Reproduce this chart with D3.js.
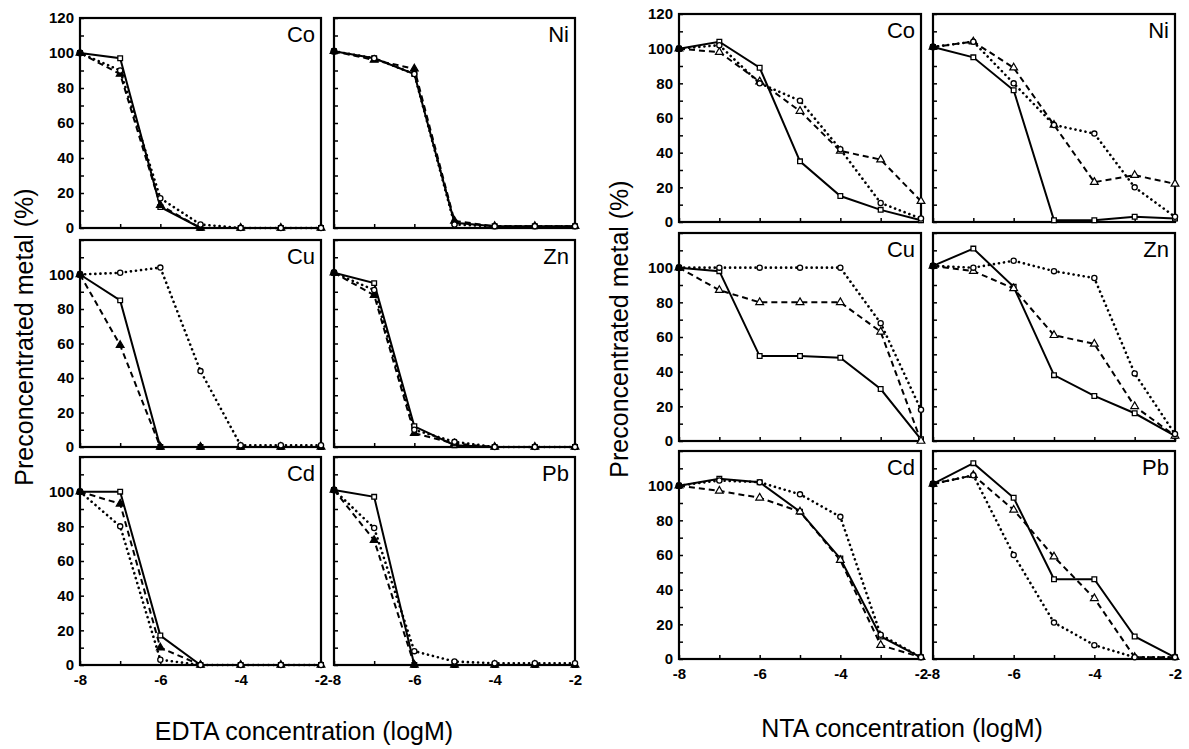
<!DOCTYPE html>
<html>
<head>
<meta charset="utf-8">
<script src="https://cdn.jsdelivr.net/npm/d3@7"></script>
<style>
  body { margin: 0; background: #fff; }
  text { font-family: "Liberation Sans", Arial, sans-serif; fill: #000; }
</style>
</head>
<body>
<div id="chart"></div>
<script>
// x values (log M) and panel names
const logConc = [-8, -7, -6, -5, -4, -3, -2];
const metals = ["Co", "Ni", "Cu", "Zn", "Cd", "Pb"];
const yLabelsTop = [0, 20, 40, 60, 80, 100, 120];
const yLabelsOther = [0, 20, 40, 60, 80, 100];
const xLabels = [-8, -6, -4, -2];

// EDTA: solid / dashed / dotted series, one row per metal
const edtaSolid = [
  [100, 97, 12, 0, 0, 0, 0],
  [101, 97, 88, 3, 1, 1, 1],
  [100, 85, 0, 0, 0, 0, 0],
  [101, 95, 12, 1, 0, 0, 0],
  [100, 100, 17, 0, 0, 0, 0],
  [101, 97, 0, 0, 0, 0, 0]
];
const edtaDashed = [
  [100, 88, 13, 0, 0, 0, 0],
  [101, 96, 91, 4, 1, 1, 1],
  [100, 59, 0, 0, 0, 0, 0],
  [101, 88, 8, 2, 0, 0, 0],
  [100, 93, 10, 0, 0, 0, 0],
  [101, 72, 0, 0, 0, 0, 0]
];
const edtaDotted = [
  [100, 90, 17, 2, 0, 0, 0],
  [101, 97, 88, 2, 1, 1, 1],
  [100, 101, 104, 44, 1, 1, 1],
  [101, 91, 10, 3, 0, 0, 0],
  [100, 80, 3, 0, 0, 0, 0],
  [101, 79, 8, 2, 1, 1, 1]
];

// NTA
const ntaSolid = [
  [100, 104, 89, 35, 15, 7, 1],
  [101, 95, 76, 1, 1, 3, 2],
  [100, 98, 49, 49, 48, 30, 1],
  [101, 111, 89, 38, 26, 16, 3],
  [100, 104, 102, 85, 58, 13, 1],
  [101, 113, 93, 46, 46, 13, 1]
];
const ntaDashed = [
  [100, 98, 81, 64, 41, 36, 12],
  [101, 104, 89, 56, 23, 27, 22],
  [100, 87, 80, 80, 80, 63, 0],
  [101, 98, 88, 61, 56, 20, 3],
  [100, 97, 93, 85, 57, 8, 1],
  [101, 106, 86, 59, 35, 1, 1]
];
const ntaDotted = [
  [100, 102, 80, 70, 42, 11, 2],
  [101, 104, 80, 56, 51, 20, 3],
  [100, 100, 100, 100, 100, 68, 18],
  [101, 100, 104, 98, 94, 39, 4],
  [100, 103, 102, 95, 82, 14, 1],
  [101, 106, 60, 21, 8, 1, 1]
];

const width = 1189, height = 749;

const svg = d3.select("#chart").append("svg")
  .attr("width", width)
  .attr("height", height);

// panel geometry for the two groups
const groups = [
  {
    title: "EDTA concentration (logM)",
    cols: [[80, 321], [334, 575]],
    rows: [[18, 228], [240, 447], [457, 665]],
    series: [edtaSolid, edtaDashed, edtaDotted],
    triFill: "#000",
    ylab: { x: 33, y: 337 },
    xlab: { x: 304, y: 740 }
  },
  {
    title: "NTA concentration (logM)",
    cols: [[679, 921], [933, 1175]],
    rows: [[14, 222], [233, 441], [451, 659]],
    series: [ntaSolid, ntaDashed, ntaDotted],
    triFill: "#fff",
    ylab: { x: 628, y: 329 },
    xlab: { x: 902, y: 737 }
  }
];

const lineStyles = [
  { dash: null, width: 2 },
  { dash: "6,4", width: 2 },
  { dash: "0.1,5", width: 2.6 }
];

groups.forEach(g => {
  metals.forEach((m, i) => {
    const r = Math.floor(i / 2), c = i % 2;
    const x = d3.scaleLinear().domain([-8, -2]).range(g.cols[c]);
    const y = d3.scaleLinear().domain([0, 120]).range([g.rows[r][1], g.rows[r][0]]);
    const p = svg.append("g");

    // y axis, ticks pointing inward
    const labs = r === 0 ? yLabelsTop : yLabelsOther;
    const yAxis = d3.axisLeft(y)
      .tickValues(d3.range(0, 121, 10))
      .tickSizeInner(-4).tickSizeOuter(0).tickPadding(6)
      .tickFormat(d => (c === 0 && labs.includes(d)) ? d : "");
    const ya = p.append("g").attr("transform", `translate(${g.cols[c][0]},0)`).call(yAxis);
    ya.select(".domain").remove();
    ya.selectAll("line").attr("stroke-width", 1.5);
    ya.selectAll("text").style("font-size", "15px").style("font-weight", "bold");

    // x axis
    const xAxis = d3.axisBottom(x)
      .tickValues(logConc)
      .tickSizeInner(-4).tickSizeOuter(0).tickPadding(9)
      .tickFormat(d => (r === 2 && xLabels.includes(d)) ? d : "");
    const xa = p.append("g").attr("transform", `translate(0,${g.rows[r][1]})`).call(xAxis);
    xa.select(".domain").remove();
    xa.selectAll("line").attr("stroke-width", 1.5);
    xa.selectAll("text").style("font-size", "15px").style("font-weight", "bold");

    // frame
    p.append("rect")
      .attr("x", g.cols[c][0]).attr("y", g.rows[r][0])
      .attr("width", g.cols[c][1] - g.cols[c][0])
      .attr("height", g.rows[r][1] - g.rows[r][0])
      .attr("fill", "none").attr("stroke", "#000").attr("stroke-width", 2.2);

    // panel name
    p.append("text")
      .attr("x", g.cols[c][1] - 6).attr("y", g.rows[r][0] + 24)
      .attr("text-anchor", "end")
      .style("font-size", "22px")
      .text(m);

    const line = d3.line().x((d, k) => x(logConc[k])).y(d => y(d));

    g.series.forEach((s, si) => {
      const st = lineStyles[si];
      p.append("path")
        .datum(s[i])
        .attr("d", line)
        .attr("fill", "none")
        .attr("stroke", "#000")
        .attr("stroke-width", st.width)
        .attr("stroke-linecap", si === 2 ? "round" : "butt")
        .attr("stroke-dasharray", st.dash);
    });

    // markers
    const sq = d3.symbol().type(d3.symbolSquare).size(22);
    const tri = d3.symbol().type(d3.symbolTriangle).size(26);
    p.selectAll(".m0").data(g.series[0][i]).join("path")
      .attr("d", sq)
      .attr("transform", (d, k) => `translate(${x(logConc[k])},${y(d)})`)
      .attr("fill", "#fff").attr("stroke", "#000").attr("stroke-width", 1.3);
    p.selectAll(".m1").data(g.series[1][i]).join("path")
      .attr("d", tri)
      .attr("transform", (d, k) => `translate(${x(logConc[k])},${y(d)})`)
      .attr("fill", g.triFill).attr("stroke", "#000").attr("stroke-width", 1.2);
    p.selectAll(".m2").data(g.series[2][i]).join("circle")
      .attr("cx", (d, k) => x(logConc[k])).attr("cy", d => y(d))
      .attr("r", 2.6)
      .attr("fill", "#fff").attr("stroke", "#000").attr("stroke-width", 1.3);

    // the shared first point shows as a filled dot
    p.append("circle")
      .attr("cx", x(logConc[0])).attr("cy", y(g.series[0][i][0]))
      .attr("r", 3.5).attr("fill", "#000");
  });

  // axis titles
  svg.append("text")
    .attr("transform", `translate(${g.ylab.x},${g.ylab.y}) rotate(-90)`)
    .attr("text-anchor", "middle")
    .style("font-size", "25px")
    .text("Preconcentrated metal (%)");

  svg.append("text")
    .attr("x", g.xlab.x).attr("y", g.xlab.y)
    .attr("text-anchor", "middle")
    .style("font-size", "25px")
    .text(g.title);
});
</script>
</body>
</html>
